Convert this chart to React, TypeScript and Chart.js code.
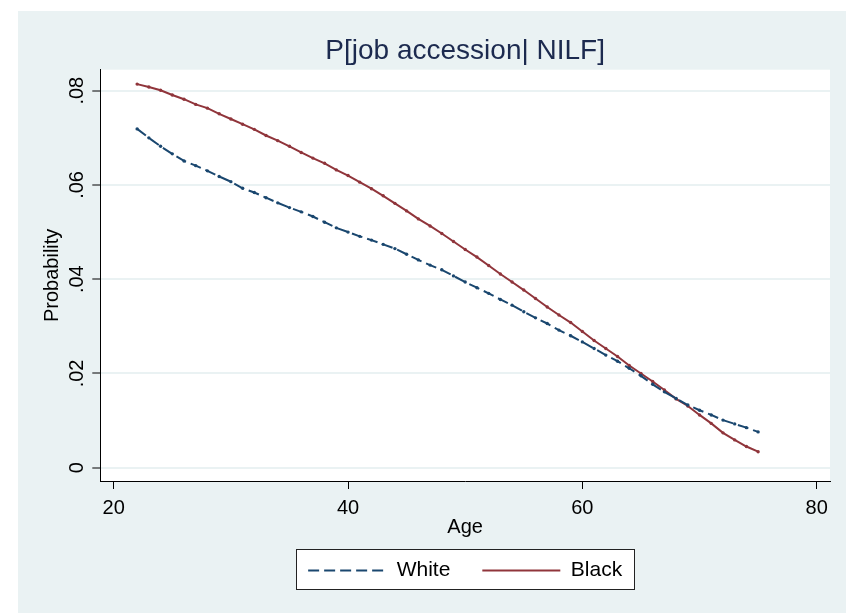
import React, { useEffect, useRef } from "react";
import { Chart, registerables } from "chart.js";

Chart.register(...registerables);

// ---- Data ----
const ages = [
  22, 23, 24, 25, 26, 27, 28, 29, 30, 31, 32, 33, 34, 35, 36, 37, 38, 39,
  40, 41, 42, 43, 44, 45, 46, 47, 48, 49, 50, 51, 52, 53, 54, 55, 56, 57,
  58, 59, 60, 61, 62, 63, 64, 65, 66, 67, 68, 69, 70, 71, 72, 73, 74, 75,
];

const whiteProb = [
  0.0719, 0.07, 0.0682, 0.0666, 0.0651, 0.0641, 0.063, 0.0618, 0.0607, 0.0593,
  0.0584, 0.0573, 0.0562, 0.0552, 0.0543, 0.0533, 0.0521, 0.0509, 0.05, 0.0491,
  0.0483, 0.0474, 0.0465, 0.0453, 0.0441, 0.043, 0.042, 0.0407, 0.0394, 0.0382,
  0.037, 0.0357, 0.0345, 0.0331, 0.0318, 0.0306, 0.0292, 0.028, 0.0267, 0.0253,
  0.0239, 0.0226, 0.0211, 0.0195, 0.0177, 0.0161, 0.0147, 0.0133, 0.0122, 0.0112,
  0.0101, 0.0093, 0.0085, 0.0076,
];

const blackProb = [
  0.0814, 0.0808, 0.0801, 0.0791, 0.0782, 0.0771, 0.0763, 0.0751, 0.074, 0.0729,
  0.0718, 0.0705, 0.0694, 0.0682, 0.0669, 0.0657, 0.0646, 0.0632, 0.062, 0.0606,
  0.0592, 0.0577, 0.0561, 0.0545, 0.0528, 0.0513, 0.0497, 0.048, 0.0463, 0.0447,
  0.0429, 0.0411, 0.0394, 0.0377, 0.0359, 0.0341, 0.0324, 0.0308, 0.0289, 0.027,
  0.0253, 0.0236, 0.0217, 0.02, 0.0183, 0.0165, 0.0146, 0.0131, 0.0112, 0.0094,
  0.0074, 0.0059, 0.0045, 0.0034,
];

const seriesLabels = ["White", "Black"];
const xTicks = [20, 40, 60, 80];
const xTickLabels = ["20", "40", "60", "80"];
const yTicks = [0, 0.02, 0.04, 0.06, 0.08];
const yTickLabels = ["0", ".02", ".04", ".06", ".08"];
const titleText = "P[job accession| NILF]";
const xTitleText = "Age";
const yTitleText = "Probability";

const FONT = '"Liberation Sans", Arial, Helvetica, sans-serif';
const BG = "#EAF2F3";
const NAVY = "#1A476F";
const MAROON = "#90353B";

function labelFor(values: number[], labels: string[], v: number): string {
  const i = values.findIndex((t) => Math.abs(t - v) < 1e-9);
  return i >= 0 ? labels[i] : "";
}

export default function App() {
  const ref = useRef<HTMLCanvasElement | null>(null);

  useEffect(() => {
    if (!ref.current) return;

    const stataPlugin = {
      id: "stataBoxes",
      beforeDraw(chart: any) {
        const { ctx, chartArea } = chart;
        ctx.save();
        ctx.fillStyle = "#ffffff";
        ctx.fillRect(
          chartArea.left,
          chartArea.top,
          chartArea.right - chartArea.left,
          chartArea.bottom - chartArea.top
        );
        const lg = chart.legend;
        if (lg && lg.legendHitBoxes && lg.legendHitBoxes.length) {
          const hb = lg.legendHitBoxes;
          const first = hb[0];
          const last = hb[hb.length - 1];
          const cy = first.top + first.height / 2;
          const left = Math.round(first.left - 12);
          const right = Math.round(last.left + last.width + 12);
          const top = Math.round(cy - 21.5);
          const bottom = Math.round(cy + 18.5);
          ctx.fillStyle = "#ffffff";
          ctx.fillRect(left, top, right - left, bottom - top);
          ctx.strokeStyle = "#222222";
          ctx.lineWidth = 1;
          ctx.strokeRect(left + 0.5, top + 0.5, right - left, bottom - top);
        }
        ctx.restore();
      },
    };

    const chart = new Chart(ref.current, {
      type: "line",
      data: {
        datasets: [
          {
            label: seriesLabels[0],
            data: ages.map((a, i) => ({ x: a, y: whiteProb[i] })),
            borderColor: NAVY,
            backgroundColor: NAVY,
            borderWidth: 2,
            borderDash: [11, 5],
            pointRadius: 1.7,
            pointBorderWidth: 0,
            pointBackgroundColor: NAVY,
            pointHoverRadius: 1.7,
            tension: 0,
            fill: false,
          },
          {
            label: seriesLabels[1],
            data: ages.map((a, i) => ({ x: a, y: blackProb[i] })),
            borderColor: MAROON,
            backgroundColor: MAROON,
            borderWidth: 2,
            pointRadius: 1.7,
            pointBorderWidth: 0,
            pointBackgroundColor: MAROON,
            pointHoverRadius: 1.7,
            tension: 0,
            fill: false,
          },
        ],
      },
      options: {
        animation: false,
        responsive: true,
        maintainAspectRatio: false,
        events: [],
        layout: { padding: { left: 0, right: 16, top: 0, bottom: 22 } },
        plugins: {
          title: {
            display: true,
            text: titleText,
            color: "#1C2A4F",
            fullSize: false,
            font: { family: FONT, size: 28, weight: "normal" as any },
            padding: { top: 23, bottom: 2.1 },
          },
          legend: {
            display: true,
            position: "bottom",
            fullSize: false,
            labels: {
              usePointStyle: true,
              pointStyle: "line",
              pointStyleWidth: 78,
              padding: 32,
              color: "#000000",
              font: { family: FONT, size: 21 },
              generateLabels: (ch: any) =>
                ch.data.datasets.map((ds: any, i: number) => ({
                  text: ds.label,
                  fillStyle: ds.borderColor,
                  strokeStyle: ds.borderColor,
                  lineWidth: 2,
                  lineDash: ds.borderDash || [],
                  lineDashOffset: 0,
                  lineCap: "butt",
                  lineJoin: "miter",
                  pointStyle: "line",
                  rotation: 0,
                  hidden: false,
                  fontColor: "#000000",
                  datasetIndex: i,
                })),
            },
          },
          tooltip: { enabled: false },
        },
        scales: {
          x: {
            type: "linear",
            min: 18.856,
            max: 81.135,
            afterBuildTicks: (s: any) => {
              s.ticks = xTicks.map((v) => ({ value: v }));
            },
            afterFit: (s: any) => {
              s.height = 47;
            },
            grid: {
              drawOnChartArea: false,
              drawTicks: true,
              tickLength: 8,
              tickColor: "#000000",
              tickWidth: 1,
            },
            border: { display: true, color: "#000000", width: 1 },
            ticks: {
              color: "#000000",
              font: { family: FONT, size: 20 },
              padding: 7,
              minRotation: 0,
              maxRotation: 0,
              autoSkip: false,
              callback: (v: any) => labelFor(xTicks, xTickLabels, Number(v)),
            },
            title: {
              display: true,
              text: xTitleText,
              color: "#000000",
              font: { family: FONT, size: 20 },
              padding: { top: 0, bottom: -11.5 },
            },
          },
          y: {
            type: "linear",
            min: -0.00282,
            max: 0.08446,
            afterBuildTicks: (s: any) => {
              s.ticks = yTicks.map((v) => ({ value: v }));
            },
            afterFit: (s: any) => {
              s.width = 82.3;
            },
            grid: {
              color: BG,
              lineWidth: 2,
              drawTicks: true,
              tickLength: 8,
              tickColor: "#000000",
              tickWidth: 1,
            },
            border: { display: true, color: "#000000", width: 1 },
            ticks: {
              color: "#000000",
              font: { family: FONT, size: 20 },
              padding: 1,
              minRotation: 90,
              maxRotation: 90,
              crossAlign: "center",
              autoSkip: false,
              callback: (v: any) => labelFor(yTicks, yTickLabels, Number(v)),
            },
            title: {
              display: true,
              text: yTitleText,
              color: "#000000",
              font: { family: FONT, size: 20 },
              padding: { top: 22.5, bottom: 0 },
            },
          },
        },
      },
      plugins: [stataPlugin],
    } as any);

    return () => {
      chart.destroy();
    };
  }, []);

  return (
    <div
      style={{
        position: "absolute",
        left: 18,
        top: 11,
        width: 828,
        height: 602,
        background: BG,
      }}
    >
      <canvas ref={ref} />
    </div>
  );
}
